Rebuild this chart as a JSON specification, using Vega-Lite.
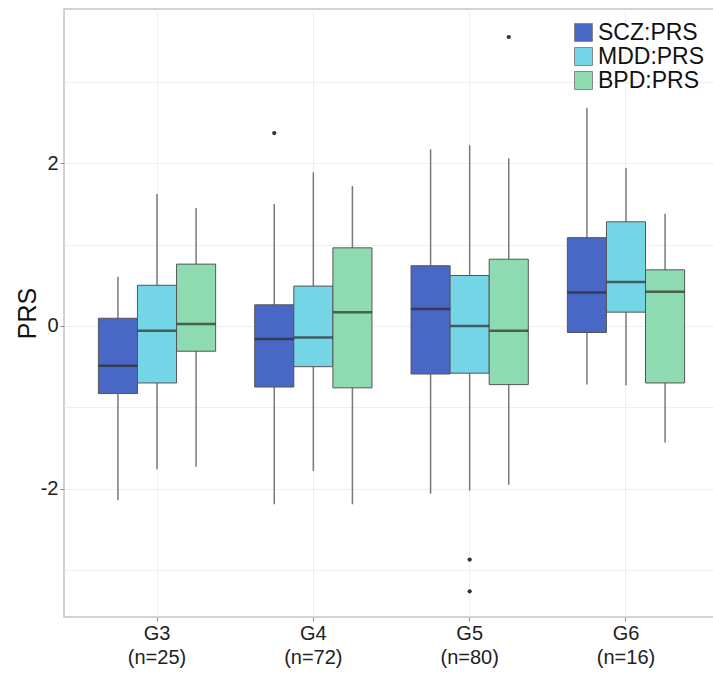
{
  "$schema": "https://vega.github.io/schema/vega-lite/v6.json",
  "autosize": {"type": "none"},
  "width": 655,
  "height": 608,
  "padding": {"left": 64, "top": 9, "right": 0, "bottom": 57},
  "background": "white",
  "config": {
    "font": "Liberation Sans",
    "view": {"stroke": "#c4c4c4", "strokeWidth": 1.5},
    "axis": {"gridColor": "#efefef", "gridWidth": 1, "domain": false, "tickColor": "#8a8a8a", "tickSize": 4, "labelColor": "#222", "labelFont": "Liberation Sans", "titleFont": "Liberation Sans", "titleFontWeight": "normal"}
  },
  "datasets": {
    "boxes": [
      {"group": "G3|(n=25)", "series": "SCZ:PRS", "lower": -2.14, "q1": -0.83, "median": -0.49, "q3": 0.095, "upper": 0.605},
      {"group": "G3|(n=25)", "series": "MDD:PRS", "lower": -1.76, "q1": -0.70, "median": -0.06, "q3": 0.50, "upper": 1.62},
      {"group": "G3|(n=25)", "series": "BPD:PRS", "lower": -1.73, "q1": -0.31, "median": 0.025, "q3": 0.76, "upper": 1.45},
      {"group": "G4|(n=72)", "series": "SCZ:PRS", "lower": -2.19, "q1": -0.75, "median": -0.16, "q3": 0.26, "upper": 1.50},
      {"group": "G4|(n=72)", "series": "MDD:PRS", "lower": -1.78, "q1": -0.50, "median": -0.14, "q3": 0.49, "upper": 1.89},
      {"group": "G4|(n=72)", "series": "BPD:PRS", "lower": -2.19, "q1": -0.76, "median": 0.17, "q3": 0.96, "upper": 1.72},
      {"group": "G5|(n=80)", "series": "SCZ:PRS", "lower": -2.06, "q1": -0.59, "median": 0.21, "q3": 0.74, "upper": 2.17},
      {"group": "G5|(n=80)", "series": "MDD:PRS", "lower": -2.02, "q1": -0.58, "median": 0.0, "q3": 0.62, "upper": 2.22},
      {"group": "G5|(n=80)", "series": "BPD:PRS", "lower": -1.95, "q1": -0.72, "median": -0.06, "q3": 0.82, "upper": 2.06},
      {"group": "G6|(n=16)", "series": "SCZ:PRS", "lower": -0.72, "q1": -0.08, "median": 0.41, "q3": 1.085, "upper": 2.68},
      {"group": "G6|(n=16)", "series": "MDD:PRS", "lower": -0.73, "q1": 0.17, "median": 0.54, "q3": 1.28, "upper": 1.94},
      {"group": "G6|(n=16)", "series": "BPD:PRS", "lower": -1.43, "q1": -0.70, "median": 0.42, "q3": 0.69, "upper": 1.38}
    ],
    "outliers": [
      {"group": "G4|(n=72)", "series": "SCZ:PRS", "value": 2.37},
      {"group": "G5|(n=80)", "series": "BPD:PRS", "value": 3.55},
      {"group": "G5|(n=80)", "series": "MDD:PRS", "value": -2.87},
      {"group": "G5|(n=80)", "series": "MDD:PRS", "value": -3.26}
    ]
  },
  "encoding": {
    "x": {
      "field": "group", "type": "nominal",
      "scale": {"domain": ["G3|(n=25)", "G4|(n=72)", "G5|(n=80)", "G6|(n=16)"], "paddingInner": 0.25, "paddingOuter": 0.22},
      "axis": {"title": null, "labelAngle": 0, "labelExpr": "split(datum.label, '|')", "labelFontSize": 20, "labelLineHeight": 24, "labelPadding": 2, "grid": true}
    },
    "xOffset": {"field": "series", "type": "nominal", "scale": {"domain": ["SCZ:PRS", "MDD:PRS", "BPD:PRS"], "paddingInner": 0, "paddingOuter": 0}}
  },
  "layer": [
    {
      "data": {"name": "boxes"},
      "mark": {"type": "rule", "color": "#7a7a7a", "strokeWidth": 1.5},
      "encoding": {
        "y": {"field": "lower", "type": "quantitative",
          "scale": {"domain": [-3.575, 3.894], "nice": false, "zero": false},
          "axis": {"title": "PRS", "titleFontSize": 25, "titlePadding": 0, "titleColor": "#111", "values": [-3, -2, -1, 0, 1, 2, 3], "labelExpr": "datum.value % 2 == 0 ? '' + datum.value : ''", "labelFontSize": 20, "labelPadding": 2, "tickColor": {"condition": {"test": "datum.value % 2 != 0", "value": "transparent"}, "value": "#8a8a8a"}}},
        "y2": {"field": "upper"}
      }
    },
    {
      "data": {"name": "boxes"},
      "mark": {"type": "bar", "stroke": "#555555", "strokeWidth": 1, "opacity": 1},
      "encoding": {
        "y": {"field": "q1", "type": "quantitative"},
        "y2": {"field": "q3"},
        "color": {"field": "series", "type": "nominal",
          "scale": {"domain": ["SCZ:PRS", "MDD:PRS", "BPD:PRS"], "range": ["#4967c5", "#73d5e5", "#8fdbb1"]},
          "legend": {"title": null, "orient": "none", "legendX": 508, "legendY": 12, "labelFontSize": 23, "labelColor": "#111", "symbolType": "square", "symbolSize": 324, "symbolStrokeColor": "#888", "symbolStrokeWidth": 1, "symbolOpacity": 1, "labelOffset": 3, "rowPadding": 0, "padding": 0}}
      }
    },
    {
      "data": {"name": "boxes"},
      "mark": {"type": "tick", "color": "#2b2b2b", "thickness": 2.5, "size": 39, "orient": "horizontal"},
      "encoding": {
        "y": {"field": "median", "type": "quantitative"}
      }
    },
    {
      "data": {"name": "outliers"},
      "mark": {"type": "circle", "color": "#333333", "size": 18, "opacity": 1},
      "encoding": {
        "y": {"field": "value", "type": "quantitative"}
      }
    }
  ]
}
